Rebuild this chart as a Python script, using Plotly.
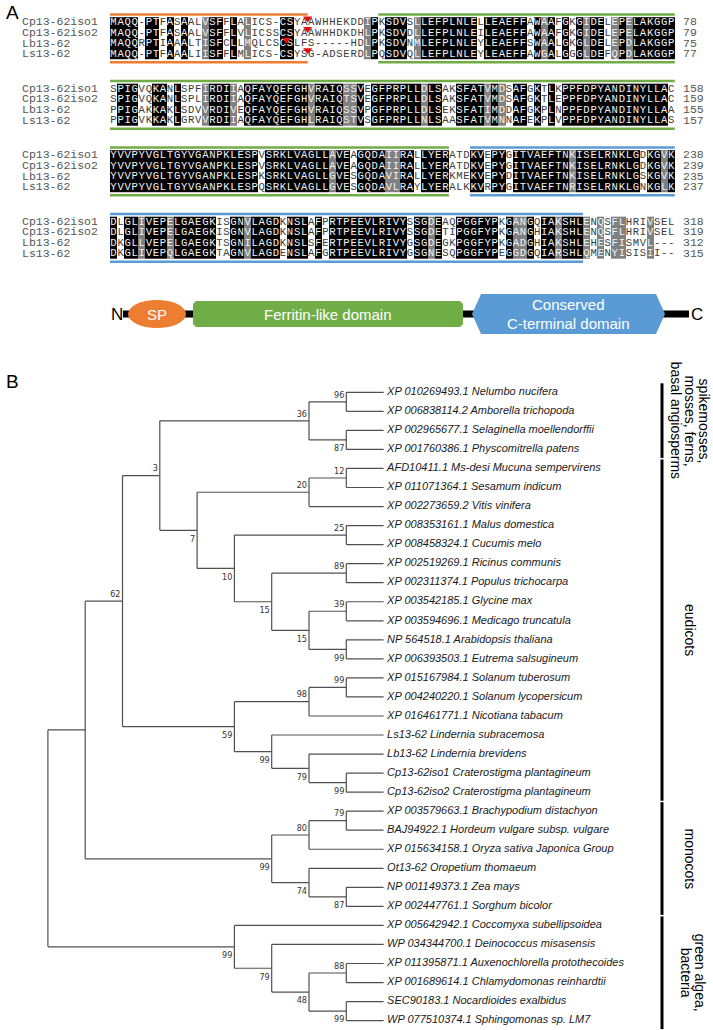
import plotly.graph_objects as go

# ---------------- DATA ----------------
seq_names = ["Cp13-62iso1", "Cp13-62iso2", "Lb13-62", "Ls13-62"]

block1 = [
    "MAQQ-PTFASAALVSFFLALICS-CSYAAWHHEKDDIPKSDVSLLEFPLNLELLEAEFFAWAAFGKGIDELEPELAKGGP",
    "MAQQ-PTFASAALVSFFLVLICSSCSYAAWHHDKDHLPKSDVDLLEFPLNLEILEAEFFAWAAFGKGIDELEPELAKGGP",
    "MAQQRPTIAAALTISFCLLMQLCSCSLFS-----HDLPKSDVNMLEFPLNLEYLEAEFFSWAALGKGLDELEPDLAKGGP",
    "MAQQ-PTFAAALIISFFLMLICS-CSYSG-ADSERDLPQSDVQLLEFPLNLEYLEAEFFAWGALGGGLDEFQPDLAKGGP",
]
block2 = [
    "SPIGVQKANLSPFIRDIIAQFAYQEFGHVRAIQSSVEGFPRPLLDLSAKSFATVMDSAFGKTLKPPFDPYANDINYLLAC",
    "SPIGVQKANLSPLIRDIIAQFAYQEFGHVRAIQTSVEGFPRPLLDLSAKSFATVMDSAFGKTLEPPFDPYANDINYLLAC",
    "PPIGAKKAKLSDVVRDIVEQFAYQEFGHVRAIQSSVPGFPRPLLDLSEKSFATIMDDAFGKPLNPPFDPYANDINYLLAA",
    "PPIGVKKAKLGRVVRDIIAQFAYQEFGHLRAIQSTVSGFPRPLLNLSAASFATVMNNAFEKPLVPPFDPYANDINYLLAS",
]
block3 = [
    "YVVPYVGLTGYVGANPKLESPVSRKLVAGLLAVEAGQDAIIRALLYERATDKVEPYGITVAEFTNKISELRNKLGDKGVK",
    "YVVPYVGLTGYVGANPKLESPVSRKLVAGLLAVEAGQDAIIRALLYERATDKVEPYGITVAEFTNKISELRNKLGDKGVK",
    "YVVPYVGLTGYVGANPKLESPKSRKLVAGLLGVESGQDAVIRALLYERKMEKVEPYDITVAEFTNKISELRNKLGSKGVK",
    "YVVPYVGLTGYVGANPKLESPQSRKLVAGLLGVESGQDAVLRAYLYERALKKVRPYGITVAEFTNRISELRNKLGNKGLK",
]
block4 = [
    "DLGLIVEPELGAEGKISGNVLAGDKNSLAFPRTPEEVLRIVYSSGDEAQPGGFYPKGANGQIAKSHLENQSFLHRIVSEL",
    "DLGLIVEPELGAEGKISGNVLAGDKNSLAFPRTPEEVLRIVYSSGDETIPGGFYPKGANGHIAKSHLENQSFLHRIVSEL",
    "DKGLLVEPELGAEGKTSGNILAGDKNSLSFERTPEEVLRIVYGSGDEGKPGGFYPKGADGHIAKSHLEHESFISMVL---",
    "DKGLIVEPQLGAEGKTAGNVLAGDENSLAFGRTPEEVLRIVYGSGNESQPGGFYPEGGDGQIARSHLQMENYISISII--",
]
blocks = [block1, block2, block3, block4]

similar_groups = ["ILVM", "FYW", "KRH", "DENQ", "ST", "AG"]

# signal peptide cleavage site (after this alignment column, block 1)
cleavage_after = [28, 28, 25, 28]

# domains in global alignment columns (80 columns per block)
align_domains = [("SP", 1, 28, "#ED7D31"),
                 ("Ferritin-like", 39, 208, "#70AD47"),
                 ("C-terminal", 212, 307, "#5B9BD5")]

# phylogeny (topology + bootstrap), leaves refer to leaf_names indices
newick = ("((((((0,1)96,(2,3)87)36,(((4,5)12,6)20,((7,8)25,((9,10)89,((11,12)39,(13,14)99)15)15)10)7)3,"
          "(((15,16)99,17)98,(18,(19,(20,21)99)79)99)59)62,"
          "(((22,23)79,24)80,(25,(26,27)87)74)99),"
          "(28,(29,((30,31)88,(32,33)99)48)79)99);")

leaf_names = [
    "XP 010269493.1 Nelumbo nucifera",
    "XP 006838114.2 Amborella trichopoda",
    "XP 002965677.1 Selaginella moellendorffii",
    "XP 001760386.1 Physcomitrella patens",
    "AFD10411.1 Ms-desi Mucuna sempervirens",
    "XP 011071364.1 Sesamum indicum",
    "XP 002273659.2 Vitis vinifera",
    "XP 008353161.1 Malus domestica",
    "XP 008458324.1 Cucumis melo",
    "XP 002519269.1 Ricinus communis",
    "XP 002311374.1 Populus trichocarpa",
    "XP 003542185.1 Glycine max",
    "XP 003594696.1 Medicago truncatula",
    "NP 564518.1 Arabidopsis thaliana",
    "XP 006393503.1 Eutrema salsugineum",
    "XP 015167984.1 Solanum tuberosum",
    "XP 004240220.1 Solanum lycopersicum",
    "XP 016461771.1 Nicotiana tabacum",
    "Ls13-62 Lindernia subracemosa",
    "Lb13-62 Lindernia brevidens",
    "Cp13-62iso1 Craterostigma plantagineum",
    "Cp13-62iso2 Craterostigma plantagineum",
    "XP 003579663.1 Brachypodium distachyon",
    "BAJ94922.1 Hordeum vulgare subsp. vulgare",
    "XP 015634158.1 Oryza sativa Japonica Group",
    "Ot13-62 Oropetium thomaeum",
    "NP 001149373.1 Zea mays",
    "XP 002447761.1 Sorghum bicolor",
    "XP 005642942.1 Coccomyxa subellipsoidea",
    "WP 034344700.1 Deinococcus misasensis",
    "XP 011395871.1 Auxenochlorella protothecoides",
    "XP 001689614.1 Chlamydomonas reinhardtii",
    "SEC90183.1 Nocardioides exalbidus",
    "WP 077510374.1 Sphingomonas sp. LM7",
]

clade_groups = [
    (["spikemosses,", "mosses, ferns,", "basal angiosperms"], 0, 3),
    (["eudicots"], 4, 21),
    (["monocots"], 22, 27),
    (["green algea,", "bacteria"], 28, 33),
]

# ---------------- LAYOUT CONSTANTS ----------------
W, H = 713, 1030
X0, CW = 110.0, 7.06
RH = 10.6
BLOCK_Y0, BLOCK_STEP = 22.5, 66.5
LINE_OFF = 8.0
MONO = "Liberation Mono, DejaVu Sans Mono, monospace"
SANS = "Liberation Sans, Arial, sans-serif"
NARROW = "Liberation Sans Narrow, DejaVu Sans Condensed, Arial, sans-serif"

fig = go.Figure()


def shade(col):
    if '-' in col or ' ' in col:
        return 0
    if all(c == col[0] for c in col):
        return 2
    for g in similar_groups:
        if all(c in g for c in col):
            return 1
    return 0


ncol = 80
xs = [X0 + (i + 0.5) * CW for i in range(ncol)]
tx, ty, tt, tc = [], [], [], []
nx, ny, nt = [], [], []
numx, numy, numt = [], [], []
counts = [0] * 4
for b, blk in enumerate(blocks):
    rows = [s.ljust(ncol)[:ncol] for s in blk]
    by = BLOCK_Y0 + b * BLOCK_STEP
    ys = [by + r * RH for r in range(4)]
    z = [[0] * ncol for _ in range(4)]
    for i in range(ncol):
        col = [rows[r][i] for r in range(4)]
        s = shade(col)
        for r in range(4):
            z[r][i] = s
            tx.append(xs[i]); ty.append(ys[r]); tt.append(rows[r][i])
            tc.append("#f2f2f2" if s > 0 else "#3a3a3a")
    fig.add_trace(go.Heatmap(x=xs, y=ys, z=z, zmin=0, zmax=2, showscale=False,
                             colorscale=[[0, "#ffffff"], [0.5, "#808080"], [1, "#000000"]],
                             hoverinfo="skip", xgap=0, ygap=0))
    for r in range(4):
        counts[r] += sum(1 for c in rows[r] if c not in "- ")
        nx.append(22); ny.append(ys[r]); nt.append(seq_names[r])
        numx.append(683); numy.append(ys[r]); numt.append(str(counts[r]))
    # domain lines
    for name, s0, e0, color in align_domains:
        cs = max(s0, b * ncol + 1) - b * ncol
        ce = min(e0, (b + 1) * ncol) - b * ncol
        if cs > ce:
            continue
        xa, xb = X0 + (cs - 1) * CW, X0 + ce * CW
        yt, ybm = by - LINE_OFF, by + 3 * RH + LINE_OFF
        fig.add_trace(go.Scatter(x=[xa, xb, None, xa, xb], y=[yt, yt, None, ybm, ybm], mode="lines",
                                 line=dict(color=color, width=2.6), hoverinfo="skip", showlegend=False))

fig.add_trace(go.Scatter(x=tx, y=ty, text=tt, mode="text", hoverinfo="skip", showlegend=False,
                         textfont=dict(family=MONO, size=10.6, color=tc)))
fig.add_trace(go.Scatter(x=nx, y=ny, text=nt, mode="text", textposition="middle right", hoverinfo="skip",
                         showlegend=False, textfont=dict(family=MONO, size=11.5, color="#555555")))
fig.add_trace(go.Scatter(x=numx, y=numy, text=numt, mode="text", textposition="middle right",
                         hoverinfo="skip", showlegend=False,
                         textfont=dict(family=MONO, size=11.5, color="#555555")))
# cleavage triangles
fig.add_trace(go.Scatter(x=[X0 + c * CW for c in cleavage_after],
                         y=[BLOCK_Y0 + r * RH - 4 for r in range(4)], mode="markers",
                         marker=dict(symbol="triangle-down", size=8, color="#e01010"),
                         hoverinfo="skip", showlegend=False))

# ---------------- DOMAIN DIAGRAM ----------------
DY = 314
shapes = []
shapes.append(dict(type="rect", x0=123, x1=689, y0=DY - 3.5, y1=DY + 3.5,
                   fillcolor="black", line=dict(width=0)))
shapes.append(dict(type="circle", x0=128, x1=186, y0=DY - 14, y1=DY + 14,
                   fillcolor="#ED7D31", line=dict(width=0)))
gx0, gx1, gy0, gy1, ch = 193, 463, DY - 13, DY + 13, 3
shapes.append(dict(type="path",
                   path=f"M {gx0+ch} {gy0} L {gx1-ch} {gy0} L {gx1} {gy0+ch} L {gx1} {gy1-ch} "
                        f"L {gx1-ch} {gy1} L {gx0+ch} {gy1} L {gx0} {gy1-ch} L {gx0} {gy0+ch} Z",
                   fillcolor="#70AD47", line=dict(width=0)))
hx0, hx1, hy0, hy1, hp = 472, 665, DY - 20, DY + 20, 9
shapes.append(dict(type="path",
                   path=f"M {hx0} {DY} L {hx0+hp} {hy0} L {hx1-hp} {hy0} L {hx1} {DY} "
                        f"L {hx1-hp} {hy1} L {hx0+hp} {hy1} Z",
                   fillcolor="#5B9BD5", line=dict(width=0)))

annotations = []


def ann(x, y, text, size, color="black", family=SANS, xanchor="center", angle=0):
    annotations.append(dict(x=x, y=y, xref="x", yref="y", text=text, showarrow=False,
                            xanchor=xanchor, yanchor="middle", textangle=angle,
                            font=dict(family=family, size=size, color=color)))


ann(117, DY, "N", 17)
ann(697, DY, "C", 17)
ann(157, DY, "SP", 15, "white")
ann((gx0 + gx1) / 2, DY, "Ferritin-like domain", 15, "white")
ann((hx0 + hx1) / 2, DY - 9.5, "Conserved", 15, "white")
ann((hx0 + hx1) / 2, DY + 9.5, "C-terminal domain", 15, "white")
ann(4, 12, "A", 19, xanchor="left")
ann(4, 381, "B", 19, xanchor="left")

# ---------------- TREE ----------------
LEAF_Y0, LEAF_DY = 392.3, 19.04
TIP_X, STEP = 383.6, 37.3


def parse(s):
    pos = 0

    def node():
        nonlocal pos
        if s[pos] == "(":
            pos += 1
            kids = [node()]
            while s[pos] == ",":
                pos += 1
                kids.append(node())
            pos += 1  # ')'
            lab = ""
            while pos < len(s) and s[pos] not in ",);":
                lab += s[pos]; pos += 1
            return {"kids": kids, "bs": lab}
        lab = ""
        while s[pos] not in ",);":
            lab += s[pos]; pos += 1
        return {"leaf": int(lab)}
    return node()


root = parse(newick)


def place(n):
    if "leaf" in n:
        n["h"] = 0
        n["y"] = LEAF_Y0 + n["leaf"] * LEAF_DY
    else:
        for k in n["kids"]:
            place(k)
        n["h"] = 1 + max(k["h"] for k in n["kids"])
        n["y"] = (n["kids"][0]["y"] + n["kids"][-1]["y"]) / 2
    n["x"] = TIP_X - n["h"] * STEP


place(root)

lx, ly = [], []
bx, by_, bt = [], [], []


def draw(n):
    if "leaf" in n:
        return
    kids = n["kids"]
    lx.extend([n["x"], n["x"], None]); ly.extend([kids[0]["y"], kids[-1]["y"], None])
    for j, k in enumerate(kids):
        lx.extend([n["x"], k["x"], None]); ly.extend([k["y"], k["y"], None])
        if "kids" in k and k["bs"]:
            upper = j < len(kids) - 1
            bx.append(k["x"] - 2)
            by_.append(k["y"] - 6.5 if upper else k["y"] + 9)
            bt.append(k["bs"])
        draw(k)


draw(root)
fig.add_trace(go.Scatter(x=lx, y=ly, mode="lines", line=dict(color="#505050", width=1.2),
                         hoverinfo="skip", showlegend=False))
fig.add_trace(go.Scatter(x=bx, y=by_, text=bt, mode="text", textposition="middle left", hoverinfo="skip",
                         showlegend=False, textfont=dict(family=NARROW, size=9, color="#333333")))
fig.add_trace(go.Scatter(x=[TIP_X + 3.5] * len(leaf_names),
                         y=[LEAF_Y0 + i * LEAF_DY for i in range(len(leaf_names))],
                         text=[f"<i>{t}</i>" for t in leaf_names], mode="text", textposition="middle right",
                         hoverinfo="skip", showlegend=False,
                         textfont=dict(family=SANS, size=11, color="#1a1a1a")))

# clade bars and labels
BAR_X, LAB_X, LAB_LS = 662, 690, 14
for lines, a, b in clade_groups:
    ya = LEAF_Y0 + a * LEAF_DY - 9
    yb = LEAF_Y0 + b * LEAF_DY + 8.5
    shapes.append(dict(type="line", x0=BAR_X, x1=BAR_X, y0=ya, y1=yb, line=dict(color="black", width=3)))
    nl = len(lines)
    cx = LAB_X + (3 if nl == 2 else 0)
    for k, t in enumerate(lines):
        ann(cx + ((nl - 1) / 2 - k) * LAB_LS, (ya + yb) / 2, t, 14, angle=90)

fig.update_layout(
    width=W, height=H, margin=dict(l=0, r=0, t=0, b=0),
    plot_bgcolor="white", paper_bgcolor="white", showlegend=False,
    xaxis=dict(range=[0, W], visible=False, fixedrange=True),
    yaxis=dict(range=[H, 0], visible=False, fixedrange=True),
    shapes=shapes, annotations=annotations,
)
fig.write_html("out.html", config={"displayModeBar": False, "staticPlot": True},
               post_script="document.body.style.margin='0';document.body.style.padding='0';"
                           "document.body.style.overflow='hidden';")
